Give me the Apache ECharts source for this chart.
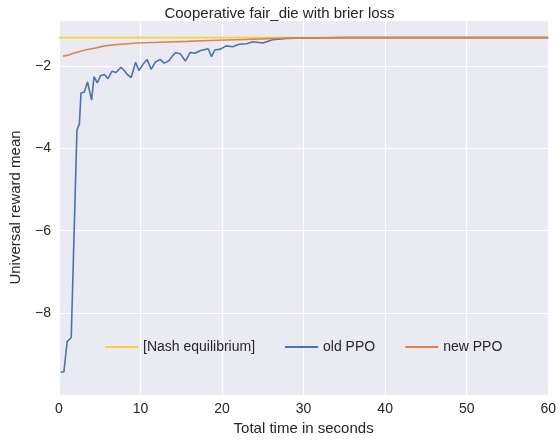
<!DOCTYPE html>
<html>
<head>
<meta charset="utf-8">
<script src="https://cdn.jsdelivr.net/npm/echarts@6/dist/echarts.min.js"></script>
<style>html,body{margin:0;padding:0;background:#fff}#chart{width:559px;height:441px}</style>
</head>
<body>
<div id="chart"></div>
<script>
var nashValue = -1.3;
var nashTimes = [0, 60];

var oldTimes = [0.2, 0.6, 1.0, 1.5, 2.0, 2.2, 2.5, 2.7, 3.1, 3.5, 4.0, 4.3, 4.7, 5.1, 5.6, 6.0, 6.5, 7.0, 7.6, 8.0, 8.4, 8.85, 9.4, 9.8, 10.3, 10.8, 11.3, 11.8, 12.4, 12.9, 13.45, 13.9, 14.3, 14.9, 15.5, 16.1, 16.7, 17.3, 18.3, 18.7, 19.1, 19.8, 20.5, 21.3, 22.1, 23.0, 23.8, 25.0, 26.2, 27.9, 30, 35, 40, 45, 50, 55, 60];
var oldValues = [-9.44, -9.44, -8.7, -8.6, -5.0, -3.55, -3.4, -2.65, -2.62, -2.38, -2.82, -2.25, -2.4, -2.22, -2.2, -2.3, -2.12, -2.15, -2.02, -2.1, -2.2, -2.27, -1.9, -2.1, -1.95, -1.83, -2.07, -1.9, -1.83, -1.92, -1.87, -1.75, -1.66, -1.7, -1.87, -1.66, -1.68, -1.62, -1.57, -1.76, -1.6, -1.58, -1.5, -1.52, -1.46, -1.45, -1.4, -1.43, -1.35, -1.32, -1.31, -1.3, -1.3, -1.3, -1.3, -1.3, -1.3];

var newTimes = [0.5, 1.2, 1.9, 2.7, 3.5, 4.5, 5.6, 7.5, 9.6, 12.5, 15.7, 18.5, 21.7, 25, 28, 35, 45, 60];
var newValues = [-1.75, -1.72, -1.67, -1.63, -1.59, -1.55, -1.5, -1.46, -1.43, -1.41, -1.39, -1.37, -1.35, -1.33, -1.31, -1.3, -1.3, -1.3];

function pairs(xs, ys) {
  return xs.map(function (x, i) { return [x, Array.isArray(ys) ? ys[i] : ys]; });
}

var chart = echarts.init(document.getElementById('chart'));
chart.setOption({
  textStyle: {fontFamily: 'Liberation Sans'},
  title: {
    text: 'Cooperative fair_die with brier loss',
    left: 'center', top: 1,
    textStyle: {fontSize: 15, fontWeight: 'normal', color: '#262626'}
  },
  grid: {left: 54, right: 10, top: 20, bottom: 46, show: true, backgroundColor: '#EAEAF2', borderWidth: 0},
  legend: {
    left: 100, top: 335, itemGap: 30, itemWidth: 33, itemHeight: 2,
    icon: 'rect',
    textStyle: {fontSize: 14, color: '#262626'},
    data: ['[Nash equilibrium]', 'old PPO', 'new PPO']
  },
  xAxis: {
    type: 'value', min: 0, max: 60, interval: 10,
    name: 'Total time in seconds', nameLocation: 'middle', nameGap: 24,
    nameTextStyle: {fontSize: 15, color: '#262626'},
    axisLine: {show: false}, axisTick: {show: false},
    axisLabel: {fontSize: 14, color: '#262626', margin: 7},
    splitLine: {lineStyle: {color: '#fff', width: 1.2}}
  },
  yAxis: {
    type: 'value', min: -10, max: -0.87, interval: 2,
    name: 'Universal reward mean', nameLocation: 'middle', nameGap: 36,
    nameTextStyle: {fontSize: 15, color: '#262626'},
    axisLine: {show: false}, axisTick: {show: false},
    axisLabel: {fontSize: 14, color: '#262626', showMinLabel: false, showMaxLabel: false, margin: 8,
      formatter: function (v) { return '\u2212' + Math.abs(v); }},
    splitLine: {lineStyle: {color: '#fff', width: 1.2}}
  },
  series: [
    {name: '[Nash equilibrium]', type: 'line', data: pairs(nashTimes, nashValue), showSymbol: false,
      lineStyle: {color: '#F5D33A', width: 1.6}, itemStyle: {color: '#F5D33A'}, z: 1},
    {name: 'old PPO', type: 'line', data: pairs(oldTimes, oldValues), showSymbol: false,
      lineStyle: {color: '#4C72B0', width: 1.6}, itemStyle: {color: '#4C72B0'}, z: 2},
    {name: 'new PPO', type: 'line', data: pairs(newTimes, newValues), showSymbol: false,
      lineStyle: {color: '#DD8452', width: 1.6}, itemStyle: {color: '#DD8452'}, z: 3}
  ]
});
</script>
</body>
</html>
